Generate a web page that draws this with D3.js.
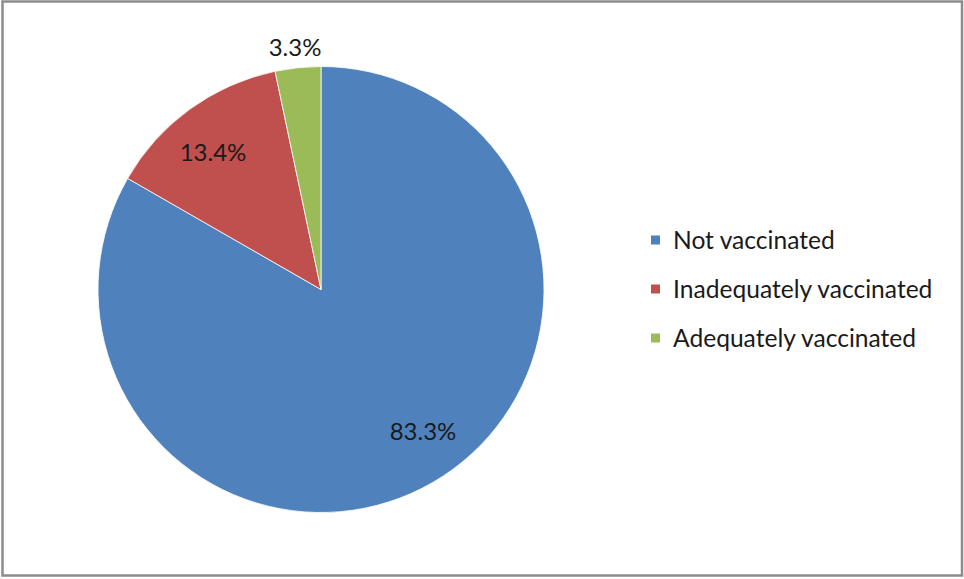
<!DOCTYPE html>
<html><head><meta charset="utf-8">
<script src="https://cdn.jsdelivr.net/npm/d3@7"></script>
<style>body{margin:0;background:#fff}svg{display:block}</style>
</head><body>
<svg id="c" width="964" height="579"></svg>
<script>
const categories = ["Not vaccinated", "Inadequately vaccinated", "Adequately vaccinated"];
const values = [83.3, 13.4, 3.3];
const labels = ["83.3%", "13.4%", "3.3%"];
const colors = ["#4F81BD", "#C0504D", "#9BBB59"];

const svg = d3.select("#c");
const font = "Lato, 'Open Sans', sans-serif";
svg.append("rect").attr("x", 2.5).attr("y", 1.5).attr("width", 959.5).attr("height", 574)
  .attr("fill", "#fff").attr("stroke", "#8c8c8c").attr("stroke-width", 2.5);

const cx = 321, cy = 289.5, r = 223;
const pie = d3.pie().sort(null).value(d => d)(values);
const arc = d3.arc().innerRadius(0).outerRadius(r);
const g = svg.append("g").attr("transform", `translate(${cx},${cy})`);
g.selectAll("path").data(pie).join("path")
  .attr("d", arc).attr("fill", (d, i) => colors[i])
  .attr("stroke", "#fff").attr("stroke-width", 0.8);

const labelPos = [[102, 141], [-108, -138], [-26, -243]];
g.selectAll("text").data(pie).join("text")
  .attr("x", (d, i) => labelPos[i][0]).attr("y", (d, i) => labelPos[i][1])
  .attr("text-anchor", "middle").attr("dominant-baseline", "central")
  .attr("font-family", font).attr("font-size", 24).attr("fill", "#1a1a1a")
  .text((d, i) => labels[i]);

const lg = svg.append("g");
const ly = d3.scalePoint().domain(categories).range([240, 338]);
categories.forEach((c, i) => {
  lg.append("rect").attr("x", 651).attr("y", ly(c) - 4.5).attr("width", 9).attr("height", 9).attr("fill", colors[i]);
  lg.append("text").attr("x", 673).attr("y", ly(c) - 0.5).attr("dominant-baseline", "central")
    .attr("font-family", font).attr("font-size", 24.6).attr("fill", "#1a1a1a").text(c);
});
</script>
</body></html>
